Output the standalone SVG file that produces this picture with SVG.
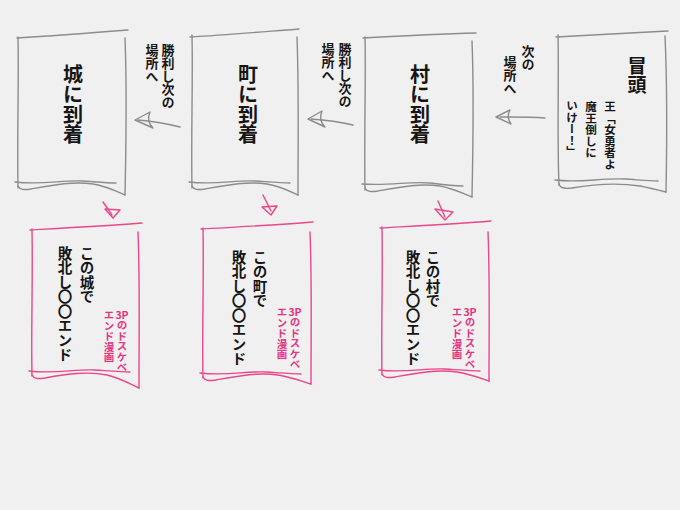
<svg xmlns="http://www.w3.org/2000/svg" width="680" height="510" viewBox="0 0 680 510">
<style>
.bg{fill:#f0f0f0}
.g{fill:none;stroke:#8c8c8c;stroke-width:1.4;stroke-linecap:round;stroke-linejoin:round}
.p{fill:none;stroke:#e8478a;stroke-width:1.4;stroke-linecap:round;stroke-linejoin:round}
.v{writing-mode:vertical-rl;font-family:"Noto Sans CJK JP","Noto Sans",sans-serif;font-weight:700;fill:#151515}
.big{font-size:20px}
.mid{font-size:13px}
.sm{font-size:11.5px}
.bt{font-size:14.5px}
.pk{font-size:10.5px;fill:#e5337f}
.h{font-family:"Noto Sans CJK JP","Noto Sans",sans-serif;font-weight:700;font-size:10.5px;fill:#e5337f;text-anchor:middle}
</style>
<rect class="bg" x="0" y="0" width="680" height="510"/>

<g id="connectors">
  <path class="g" d="M545,118 C530,117 518,117 500,117"/>
  <path class="g" d="M496,117 L510,110 Q506,117 511,124 Z"/>
  <path class="g" d="M353,125 C340,122 325,120 311,119"/>
  <path class="g" d="M308,119 L322,111 Q318,120 325,127 Z"/>
  <path class="g" d="M180,127 C168,124 152,121 138,120"/>
  <path class="g" d="M135,120 L150,112 Q146,121 153,128 Z"/>
  <path class="p" d="M438,201 L445,217"/>
  <path class="p" d="M435,209 L453,212 L445,220 Z"/>
  <path class="p" d="M263,195 L271,211"/>
  <path class="p" d="M262,207 L277,206 L271,215 Z"/>
  <path class="p" d="M103,202 L112,215"/>
  <path class="p" d="M105,209 L120,210 L113,218 Z"/>
</g>

<g id="node-opening">
  <path class="g" d="M556,37 C590,35 630,33 668,31"/>
  <path class="g" d="M558,35 C559,80 557,140 559,185"/>
  <path class="g" d="M665,36 C667,80 667,140 666,192"/>
  <path class="g" d="M555,180 C580,183 600,178 625,179 C640,180 650,181 658,181"/>
  <path class="g" d="M559,184 C560,188 565,189 572,188 C595,184 620,183 640,186 C650,188 658,190 666,192"/>
  <text class="v big" x="637" y="56" style="font-size:19px">冒頭</text>
  <text class="v sm" x="610" y="101">王「女勇者よ</text>
  <text class="v sm" x="591" y="101">魔王倒しに</text>
  <text class="v sm" x="572" y="100">いけー！」</text>
</g>

<g id="node-village">
  <path class="g" d="M363,38 C400,36 440,34 476,33"/>
  <path class="g" d="M365,37 C366,80 364,140 365,190"/>
  <path class="g" d="M472,41 C474,90 473,150 472,197"/>
  <path class="g" d="M362,184 C390,186 410,181 430,183 C445,185 455,186 463,186"/>
  <path class="g" d="M365,188 C367,192 371,192 378,191 C400,187 420,183 440,186 C452,188 462,193 472,197"/>
  <text class="v big" x="420" y="64">村に到着</text>
</g>

<g id="label-village-next">
  <text class="v mid" x="528" y="45">次の</text>
  <text class="v mid" x="510" y="56">場所へ</text>
</g>

<g id="node-town">
  <path class="g" d="M190,37 C225,35 260,32 299,29"/>
  <path class="g" d="M192,35 C193,80 191,140 192,188"/>
  <path class="g" d="M297,37 C299,90 298,150 298,195"/>
  <path class="g" d="M189,182 C215,185 235,180 255,181 C270,182 282,183 290,183"/>
  <path class="g" d="M192,186 C194,190 198,190 205,189 C227,185 247,181 267,184 C280,186 289,191 298,195"/>
  <text class="v big" x="248" y="64">町に到着</text>
</g>

<g id="label-town-next">
  <text class="v mid" x="345" y="43">勝利し次の</text>
  <text class="v mid" x="328" y="43">場所へ</text>
</g>

<g id="node-castle">
  <path class="g" d="M17,38 C50,36 90,33 128,30"/>
  <path class="g" d="M18,37 C19,80 17,140 18,188"/>
  <path class="g" d="M125,38 C127,90 126,150 125,195"/>
  <path class="g" d="M15,182 C42,185 62,180 82,181 C97,182 108,183 116,183"/>
  <path class="g" d="M18,186 C20,190 24,190 31,189 C53,185 73,181 93,184 C106,186 116,191 125,195"/>
  <text class="v big" x="73" y="64">城に到着</text>
</g>

<g id="label-castle-next">
  <text class="v mid" x="168" y="44">勝利し次の</text>
  <text class="v mid" x="152" y="44">場所へ</text>
</g>

<g id="node-village-end">
  <path class="p" d="M380,228 C415,226 455,224 491,221"/>
  <path class="p" d="M382,227 C383,280 381,330 382,375"/>
  <path class="p" d="M488,232 C490,280 489,330 489,381"/>
  <path class="p" d="M379,370 C405,373 425,368 445,369 C460,370 472,371 480,371"/>
  <path class="p" d="M382,374 C384,378 388,378 395,377 C417,373 437,369 457,372 C470,374 480,378 489,381"/>
  <text class="v bt" x="433" y="250">この村で</text>
  <text class="v bt" x="413" y="250">敗北し〇〇エンド</text>
  <text class="h" x="470" y="315.5">3P</text>
  <text class="v pk" x="470" y="317">のドスケベ</text>
  <text class="v pk" x="457" y="307">エンド漫画</text>
</g>

<g id="node-town-end">
  <path class="p" d="M201,229 C237,227 275,225 313,222"/>
  <path class="p" d="M203,228 C204,280 202,330 203,378"/>
  <path class="p" d="M310,232 C312,280 311,330 311,384"/>
  <path class="p" d="M200,373 C226,376 246,371 266,372 C281,373 293,374 301,374"/>
  <path class="p" d="M203,377 C205,381 209,381 216,380 C238,376 258,372 278,375 C291,377 301,381 311,384"/>
  <text class="v bt" x="260" y="250">この町で</text>
  <text class="v bt" x="239" y="250">敗北し〇〇エンド</text>
  <text class="h" x="295" y="315.5">3P</text>
  <text class="v pk" x="295" y="317">のドスケベ</text>
  <text class="v pk" x="282" y="307">エンド漫画</text>
</g>

<g id="node-castle-end">
  <path class="p" d="M30,230 C66,228 104,226 142,223"/>
  <path class="p" d="M32,229 C33,280 31,330 32,376"/>
  <path class="p" d="M138,232 C140,280 139,330 139,388"/>
  <path class="p" d="M29,371 C55,374 75,369 95,370 C110,371 122,372 130,372"/>
  <path class="p" d="M32,375 C34,379 38,379 45,378 C67,374 87,371 107,375 C120,378 130,384 139,388"/>
  <text class="v bt" x="87" y="246">この城で</text>
  <text class="v bt" x="65" y="246">敗北し〇〇エンド</text>
  <text class="h" x="122" y="318.5">3P</text>
  <text class="v pk" x="122" y="320">のドスケベ</text>
  <text class="v pk" x="109" y="310">エンド漫画</text>
</g>
</svg>
